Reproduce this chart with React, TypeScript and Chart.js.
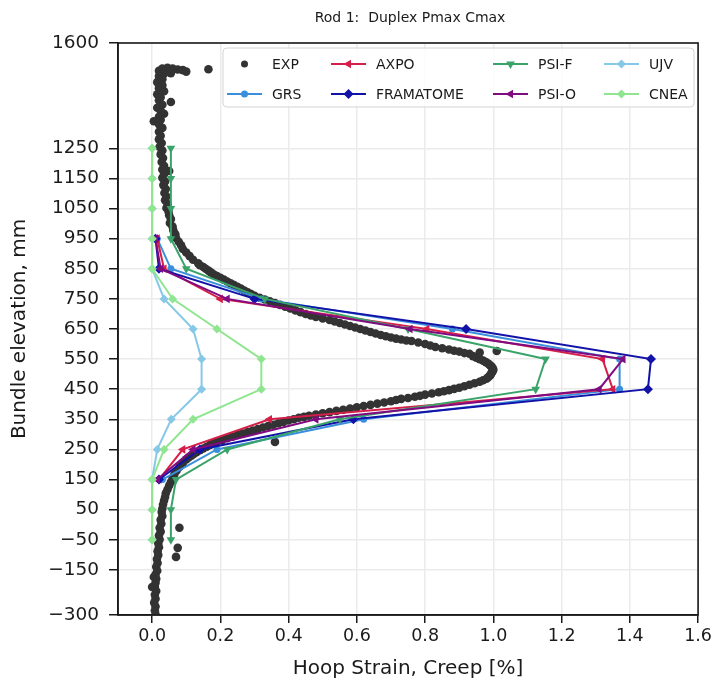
import { useEffect, useRef } from 'react';
import { Chart, registerables } from 'chart.js';
Chart.register(...registerables);

const FONT = "'DejaVu Sans', 'Liberation Sans', sans-serif";

const X_TICKS = [0, 0.2, 0.4, 0.6, 0.8, 1.0, 1.2, 1.4, 1.6];
const Y_TICKS = [-300, -150, -50, 50, 150, 250, 350, 450, 550, 650, 750, 850, 950, 1050, 1150, 1250, 1600];

// model elevations (mm)
const ELEV_FULL = [1250, 1150, 1050, 950, 850, 750, 650, 550, 450, 350, 250, 150, 50, -50];
const ELEV_MID = [950, 850, 750, 650, 550, 450, 350, 250, 150];

const GRS = [0.015, 0.055, 0.32, 0.88, 1.37, 1.37, 0.62, 0.19, 0.03];
const AXPO = [0.015, 0.035, 0.2, 0.805, 1.32, 1.35, 0.344, 0.09, 0.02];
const FRAMATOME = [0.01, 0.02, 0.3, 0.92, 1.462, 1.453, 0.59, 0.14, 0.02];
const PSI_O = [0.01, 0.025, 0.22, 0.756, 1.38, 1.31, 0.48, 0.12, 0.015];
const PSI_F = [0.055, 0.055, 0.055, 0.055, 0.1, 0.33, 0.75, 1.153, 1.124, 0.55, 0.22, 0.07, 0.055, 0.055];
const UJV = [0, 0, 0, 0, 0.0, 0.035, 0.12, 0.145, 0.145, 0.056, 0.015, 0, 0, 0];
const CNEA = [0, 0, 0, 0, 0, 0.06, 0.19, 0.32, 0.32, 0.12, 0.035, 0, 0, 0];

// experimental measurements (strain %, elevation mm)
const EXP_X = [
  0.10, 0.09, 0.075, 0.06, 0.045, 0.03, 0.02, 0.165, 0.055, 0.035, 0.02, 0.03, 0.015, 0.03, 0.02, 0.035,
  0.015, 0.025, 0.055, 0.02, 0.03, 0.015, 0.025, 0.035, 0.02, 0.005, 0.025, 0.02, 0.03, 0.02, 0.025, 0.02,
  0.028, 0.022, 0.03, 0.025, 0.032, 0.028, 0.035, 0.05, 0.03, 0.035, 0.03, 0.038, 0.033, 0.04, 0.036, 0.042,
  0.038, 0.045, 0.042, 0.048, 0.05, 0.055, 0.052, 0.06, 0.062, 0.068, 0.07, 0.078, 0.085, 0.09, 0.1, 0.11,
  0.12, 0.135, 0.15, 0.165, 0.18, 0.2, 0.22, 0.24, 0.26, 0.28, 0.3, 0.33, 0.36, 0.39, 0.42, 0.45,
  0.48, 0.52, 0.55, 0.58, 0.61, 0.64, 0.67, 0.7, 0.73, 0.76, 0.8, 0.83, 0.87, 0.9, 0.93, 0.96,
  1.01, 0.95, 0.97, 0.985, 0.995, 1.0, 0.995, 0.99, 0.98, 0.96, 0.93, 0.9, 0.87, 0.84, 0.8, 0.77,
  0.73, 0.7, 0.66, 0.62, 0.58, 0.54, 0.5, 0.46, 0.43, 0.4, 0.37, 0.34, 0.31, 0.28, 0.25, 0.22,
  0.36, 0.19, 0.17, 0.15, 0.13, 0.115, 0.1, 0.09, 0.08, 0.072, 0.065, 0.06, 0.055, 0.05, 0.045, 0.04,
  0.038, 0.035, 0.032, 0.03, 0.028, 0.03, 0.025, 0.08, 0.027, 0.022, 0.025, 0.02, 0.075, 0.022, 0.018, 0.02,
  0.016, 0.07, 0.018, 0.014, 0.016, 0.012, 0.015, 0.01, 0.005, 0.012, 0.0, 0.01, 0.008, 0.012, 0.008, 0.01,
  0.006, 0.01, 0.008, 0.01,
  0.14, 0.157, 0.172, 0.19, 0.21, 0.23, 0.25, 0.27, 0.29, 0.315, 0.345, 0.375, 0.405, 0.435, 0.465, 0.5,
  0.535, 0.565, 0.595, 0.625, 0.655, 0.685, 0.715, 0.745, 0.78, 0.815, 0.85, 0.885, 0.915, 0.94, 0.96, 0.978,
  0.99, 0.998, 0.998, 0.993, 0.985, 0.97, 0.945, 0.915, 0.885, 0.855, 0.82, 0.785, 0.75, 0.715, 0.68, 0.64,
  0.6, 0.56, 0.52, 0.48, 0.445, 0.415, 0.385, 0.355, 0.325, 0.295, 0.265, 0.235, 0.205, 0.18, 0.16, 0.14,
  0.122, 0.107,
];
const EXP_Y = [
  1505, 1510, 1512, 1515, 1518, 1515, 1508, 1513, 1500, 1498, 1490, 1480, 1470, 1460, 1450, 1440,
  1430, 1420, 1404, 1410, 1395, 1385, 1375, 1365, 1355, 1340, 1345, 1330, 1318, 1305, 1292, 1280,
  1268, 1255, 1243, 1230, 1218, 1205, 1192, 1175, 1180, 1165, 1152, 1140, 1128, 1115, 1102, 1090,
  1078, 1065, 1052, 1040, 1028, 1015, 1002, 990, 978, 965, 952, 940, 928, 916, 904, 892,
  880, 868, 856, 844, 832, 820, 808, 796, 784, 772, 760, 748, 736, 724, 712, 700,
  690, 680, 670, 660, 650, 640, 630, 622, 615, 610, 600, 590, 582, 575, 568, 572,
  577, 555, 545, 535, 525, 515, 505, 495, 485, 475, 465, 455, 447, 440, 432, 425,
  418, 410, 402, 394, 386, 378, 370, 362, 355, 346, 337, 328, 318, 308, 298, 287,
  275, 276, 265, 253, 241, 229, 217, 205, 192, 180, 167, 155, 142, 130, 117, 104,
  92, 80, 67, 54, 42, 29, 16, -10, 3, -10, -23, -36, -77, -49, -62, -75,
  -88, -107, -101, -114, -127, -140, -153, -166, -174, -180, -207, -193, -206, -220, -233, -246,
  -259, -272, -285, -298,
  862, 850, 838, 826, 814, 802, 790, 778, 766, 754, 742, 730, 718, 706, 695, 685,
  675, 665, 655, 645, 635, 626, 618, 612, 605, 595, 586, 578, 570, 560, 550, 540,
  530, 520, 510, 500, 490, 480, 470, 460, 451, 443, 436, 428, 421, 414, 406, 398,
  390, 382, 374, 366, 358, 350, 341, 332, 323, 313, 303, 292, 281, 270, 259, 247,
  235, 223,
];

const TITLE = 'Rod 1:  Duplex Pmax Cmax';

type Series = { label: string; color: string; style: string; rot: number; r: number; xs: number[]; ys: number[]; line: boolean };

const SERIES: Series[] = [
  { label: 'EXP', color: '#333333', style: 'circle', rot: 0, r: 4.3, xs: EXP_X, ys: EXP_Y, line: false },
  { label: 'GRS', color: '#3a8fdc', style: 'circle', rot: 0, r: 3.5, xs: GRS, ys: ELEV_MID, line: true },
  { label: 'AXPO', color: '#d51f48', style: 'triangle', rot: -90, r: 5, xs: AXPO, ys: ELEV_MID, line: true },
  { label: 'FRAMATOME', color: '#1212a8', style: 'rectRot', rot: 0, r: 5, xs: FRAMATOME, ys: ELEV_MID, line: true },
  { label: 'PSI-F', color: '#3aa36a', style: 'triangle', rot: 180, r: 5, xs: PSI_F, ys: ELEV_FULL, line: true },
  { label: 'PSI-O', color: '#800a80', style: 'triangle', rot: -90, r: 5, xs: PSI_O, ys: ELEV_MID, line: true },
  { label: 'UJV', color: '#87c8e6', style: 'rectRot', rot: 0, r: 4.5, xs: UJV, ys: ELEV_FULL, line: true },
  { label: 'CNEA', color: '#90e690', style: 'rectRot', rot: 0, r: 4.5, xs: CNEA, ys: ELEV_FULL, line: true },
];

function drawMarker(ctx: CanvasRenderingContext2D, style: string, rot: number, x: number, y: number, r: number, color: string) {
  ctx.save();
  ctx.fillStyle = color;
  ctx.translate(x, y);
  ctx.rotate((rot * Math.PI) / 180);
  ctx.beginPath();
  if (style === 'circle') {
    ctx.arc(0, 0, r, 0, Math.PI * 2);
  } else if (style === 'triangle') {
    for (let i = 0; i < 3; i++) {
      const a = -Math.PI / 2 + (i * 2 * Math.PI) / 3;
      const px = Math.cos(a) * r;
      const py = Math.sin(a) * r;
      if (i === 0) ctx.moveTo(px, py);
      else ctx.lineTo(px, py);
    }
    ctx.closePath();
  } else if (style === 'rectRot') {
    ctx.moveTo(0, -r);
    ctx.lineTo(r, 0);
    ctx.lineTo(0, r);
    ctx.lineTo(-r, 0);
    ctx.closePath();
  }
  ctx.fill();
  ctx.restore();
}

const framePlugin = {
  id: 'frameTitleLegend',
  afterDraw(chart: any) {
    const { ctx, chartArea } = chart;
    const { left, right, top, bottom } = chartArea;
    ctx.save();
    // frame
    ctx.strokeStyle = '#1a1a1a';
    ctx.lineWidth = 1.6;
    ctx.strokeRect(left, top, right - left, bottom - top);
    // title
    ctx.fillStyle = '#1a1a1a';
    ctx.font = `14px ${FONT}`;
    ctx.textAlign = 'center';
    ctx.textBaseline = 'middle';
    ctx.fillText(TITLE, (left + right) / 2 + 2, 18);
    // legend
    const bx = 223, by = 48, bw = 471, bh = 59, rr = 4;
    ctx.beginPath();
    ctx.moveTo(bx + rr, by);
    ctx.lineTo(bx + bw - rr, by);
    ctx.quadraticCurveTo(bx + bw, by, bx + bw, by + rr);
    ctx.lineTo(bx + bw, by + bh - rr);
    ctx.quadraticCurveTo(bx + bw, by + bh, bx + bw - rr, by + bh);
    ctx.lineTo(bx + rr, by + bh);
    ctx.quadraticCurveTo(bx, by + bh, bx, by + bh - rr);
    ctx.lineTo(bx, by + rr);
    ctx.quadraticCurveTo(bx, by, bx + rr, by);
    ctx.closePath();
    ctx.fillStyle = 'rgba(255,255,255,0.85)';
    ctx.fill();
    ctx.strokeStyle = '#d4d4d4';
    ctx.lineWidth = 1;
    ctx.stroke();
    const colX = [227, 331, 493, 604];
    const rowY = [64, 94];
    ctx.font = `14px ${FONT}`;
    ctx.textAlign = 'left';
    ctx.textBaseline = 'middle';
    SERIES.forEach((s, i) => {
      const c = Math.floor(i / 2);
      const rIdx = i % 2;
      const x0 = colX[c];
      const y0 = rowY[rIdx];
      const len = 35;
      if (s.line) {
        ctx.strokeStyle = s.color;
        ctx.lineWidth = 2;
        ctx.beginPath();
        ctx.moveTo(x0, y0);
        ctx.lineTo(x0 + len, y0);
        ctx.stroke();
      }
      drawMarker(ctx, s.style, s.rot, x0 + len / 2, y0, s.line ? s.r : 3.5, s.color);
      ctx.fillStyle = '#1a1a1a';
      ctx.fillText(s.label, x0 + len + 10, y0 + 1);
    });
    ctx.restore();
  },
};

export default function App() {
  const ref = useRef<HTMLCanvasElement>(null);
  useEffect(() => {
    if (!ref.current) return;
    const n = SERIES.length;
    const datasets = SERIES.map((s, i) => ({
      label: s.label,
      data: s.xs.map((x, j) => ({ x, y: s.ys[j] })),
      showLine: s.line,
      borderColor: s.color,
      backgroundColor: s.color,
      borderWidth: 2,
      pointStyle: s.style,
      rotation: s.rot,
      pointRadius: s.r,
      pointBorderWidth: 0,
      pointBackgroundColor: s.color,
      order: n - i,
      tension: 0,
    }));
    const chart = new Chart(ref.current, {
      type: 'scatter',
      data: { datasets },
      options: {
        responsive: false,
        animation: false,
        devicePixelRatio: 1,
        layout: { padding: { top: 43, right: 15, bottom: 0, left: 0 } },
        plugins: { legend: { display: false }, tooltip: { enabled: false }, title: { display: false } },
        scales: {
          x: {
            type: 'linear',
            min: -0.1,
            max: 1.6,
            afterBuildTicks: (scale: any) => {
              scale.ticks = X_TICKS.map((v) => ({ value: v }));
            },
            afterFit: (scale: any) => {
              scale.height = 74;
            },
            ticks: {
              callback: (v: any) => Number(v).toFixed(1),
              color: '#1a1a1a',
              font: { family: FONT, size: 17.5 },
              padding: 3,
              maxRotation: 0,
              autoSkip: false,
            },
            grid: { color: '#ebebeb', lineWidth: 1.5, tickColor: '#1a1a1a', tickLength: 8, drawTicks: true },
            border: { color: '#1a1a1a', width: 1.6 },
            title: {
              display: true,
              text: 'Hoop Strain, Creep [%]',
              color: '#1a1a1a',
              font: { family: FONT, size: 20 },
              padding: { top: 0, bottom: 8 },
            },
          },
          y: {
            type: 'linear',
            min: -300,
            max: 1600,
            afterBuildTicks: (scale: any) => {
              scale.ticks = Y_TICKS.map((v) => ({ value: v }));
            },
            afterFit: (scale: any) => {
              scale.width = 118;
            },
            ticks: {
              callback: (v: any) => (Number(v) < 0 ? '\u2212' + Math.abs(Number(v)) : String(v)),
              color: '#1a1a1a',
              font: { family: FONT, size: 18.5 },
              padding: 10,
              autoSkip: false,
            },
            grid: { color: '#ebebeb', lineWidth: 1.5, tickColor: '#1a1a1a', tickLength: 9, drawTicks: true },
            border: { color: '#1a1a1a', width: 1.6 },
            title: {
              display: true,
              text: 'Bundle elevation, mm',
              color: '#1a1a1a',
              font: { family: FONT, size: 20 },
              padding: { top: 8, bottom: 0 },
            },
          },
        },
      },
      plugins: [framePlugin],
    } as any);
    return () => chart.destroy();
  }, []);
  return (
    <div style={{ position: 'absolute', left: 0, top: 0, width: 715, height: 689 }}>
      <canvas ref={ref} width={715} height={689} />
    </div>
  );
}
